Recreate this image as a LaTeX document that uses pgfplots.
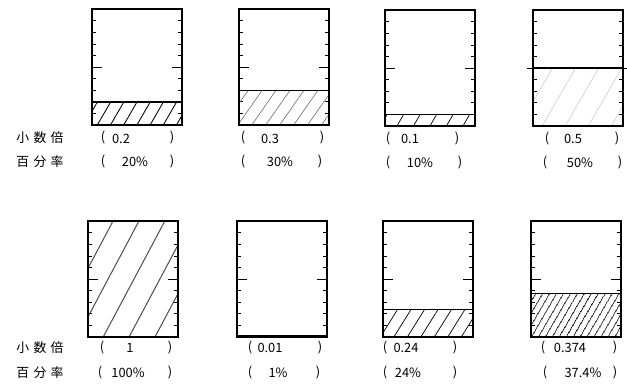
\documentclass[border=0pt]{standalone}
\usepackage{pgfplots}
\pgfplotsset{compat=1.18}
\usetikzlibrary{patterns.meta}
\usepackage{fontspec}
\setmainfont{Noto Sans CJK JP}

% one px of the reference = 0.7pt
\newcommand\lab[3]{\node[inner sep=0pt] at ({#1*0.7pt},{-#2*0.7pt}) {#3};}

\pgfplotsset{
  box/.style={
    scale only axis, width=63pt, height=81pt,
    anchor=south west,
    xmin=0, xmax=1, ymin=0, ymax=1,
    xtick=\empty,
    ytick={0.1,0.2,0.3,0.4,0.5,0.6,0.7,0.8,0.9},
    yticklabels={},
    ytick pos=both,
    tick align=inside,
    major tick length=3pt,
    tick style={black, line width=0.6pt},
    extra y ticks={0.5},
    extra y tick labels={},
    extra y tick style={major tick length=7pt},
    axis line style={line width=1.3pt},
  },
  level/.style={draw=black, line width=1pt},
}

\begin{document}
\begin{tikzpicture}
\useasboundingbox (0,0) rectangle (627*0.7pt,-385*0.7pt);
\fontsize{9}{10}\selectfont

% ---- top row ----
\begin{axis}[box, at={(92*0.7pt,-125*0.7pt)}]
  \addplot[level, pattern={Lines[angle=60,distance=8pt,line width=0.6pt]}]
    coordinates {(0,0.2) (1,0.2)} \closedcycle;
\end{axis}
\begin{axis}[box, at={(239*0.7pt,-125*0.7pt)}]
  \addplot[level, pattern={Lines[angle=55,distance=8pt,line width=0.4pt]}, pattern color=black!60]
    coordinates {(0,0.3) (1,0.3)} \closedcycle;
\end{axis}
\begin{axis}[box, at={(385*0.7pt,-126*0.7pt)}]
  \addplot[level, pattern={Lines[angle=60,distance=10pt,line width=0.5pt]}]
    coordinates {(0,0.1) (1,0.1)} \closedcycle;
\end{axis}
\begin{axis}[box, at={(533*0.7pt,-126*0.7pt)}, extra y tick style={major tick length=9pt, tick align=center}]
  \addplot[level, pattern={Lines[angle=60,distance=14pt,line width=0.3pt]}, pattern color=black!25]
    coordinates {(0,0.5) (1,0.5)} \closedcycle;
\end{axis}

% ---- bottom row ----
\begin{axis}[box, at={(88*0.7pt,-337*0.7pt)}]
  \addplot[level, pattern={Lines[angle=62,distance=16pt,line width=0.7pt]}, pattern color=black!70]
    coordinates {(0,1) (1,1)} \closedcycle;
\end{axis}
\begin{axis}[box, at={(237*0.7pt,-337*0.7pt)}]
  \addplot[level, fill=black!70]
    coordinates {(0,0.01) (1,0.01)} \closedcycle;
\end{axis}
\begin{axis}[box, at={(383*0.7pt,-337*0.7pt)}]
  \addplot[level, pattern={Lines[angle=58,distance=8pt,line width=0.5pt]}]
    coordinates {(0,0.24) (1,0.24)} \closedcycle;
\end{axis}
\begin{axis}[box, at={(531*0.7pt,-337*0.7pt)}]
  \addplot[level, pattern={Lines[angle=60,distance=4pt,line width=0.6pt]}]
    coordinates {(0,0.374) (1,0.374)} \closedcycle;
\end{axis}

% ---- row labels ----
\lab{40}{138}{小\hspace{3pt}数\hspace{3pt}倍}
\lab{40}{162}{百\hspace{3pt}分\hspace{3pt}率}
\lab{40}{348}{小\hspace{3pt}数\hspace{3pt}倍}
\lab{40}{373}{百\hspace{3pt}分\hspace{3pt}率}

% ---- values, top row ----
\lab{103}{138}{(} \lab{121}{139}{0.2}  \lab{172}{138}{)}
\lab{103}{162}{(} \lab{135}{162}{20\%} \lab{172}{162}{)}
\lab{243}{138}{(} \lab{270}{139}{0.3}  \lab{322}{138}{)}
\lab{243}{162}{(} \lab{280}{162}{30\%} \lab{320}{162}{)}
\lab{388}{139}{(} \lab{410}{139}{0.1}  \lab{457}{139}{)}
\lab{388}{163}{(} \lab{420}{163}{10\%} \lab{460}{163}{)}
\lab{547}{139}{(} \lab{573}{139}{0.5}  \lab{617}{139}{)}
\lab{545}{163}{(} \lab{580}{163}{50\%} \lab{620}{163}{)}

% ---- values, bottom row ----
\lab{102}{348}{(} \lab{130}{348}{1}     \lab{170}{348}{)}
\lab{100}{373}{(} \lab{128}{373}{100\%} \lab{170}{373}{)}
\lab{250}{348}{(} \lab{270}{348}{0.01}  \lab{320}{348}{)}
\lab{250}{373}{(} \lab{278}{373}{1\%}   \lab{318}{373}{)}
\lab{385}{348}{(} \lab{406}{348}{0.24}  \lab{455}{348}{)}
\lab{385}{373}{(} \lab{408}{373}{24\%}  \lab{455}{373}{)}
\lab{543}{348}{(} \lab{570}{348}{0.374} \lab{615}{348}{)}
\lab{545}{373}{(} \lab{583}{373}{37.4\%}\lab{615}{373}{)}
\end{tikzpicture}
\end{document}
